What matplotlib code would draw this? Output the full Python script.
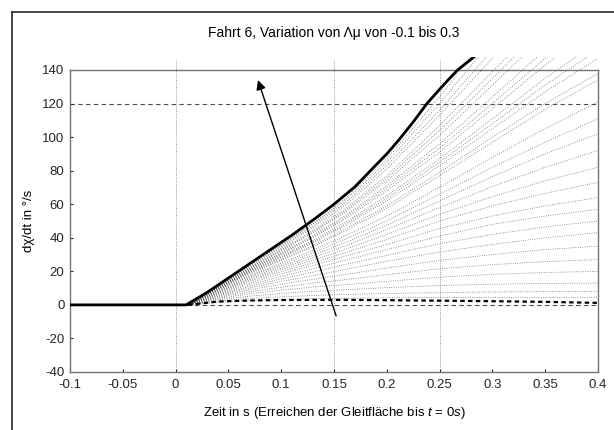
import matplotlib

matplotlib.use("Agg")
import matplotlib.pyplot as plt
from matplotlib.lines import Line2D
from matplotlib.patches import Rectangle

plt.rcParams["font.family"] = ["Liberation Sans", "DejaVu Sans"]
plt.rcParams["axes.unicode_minus"] = False
plt.rcParams["mathtext.fontset"] = "custom"
plt.rcParams["mathtext.rm"] = "Liberation Sans"
plt.rcParams["mathtext.it"] = "Liberation Sans:italic"

# thick reference curve
thick_x = [-0.1, 0.01, 0.03, 0.05, 0.07, 0.09, 0.11, 0.13, 0.15, 0.17, 0.187,
           0.2, 0.211, 0.225, 0.238, 0.25, 0.258, 0.267, 0.276, 0.285]
thick_y = [0, 0, 7.5, 16, 24.5, 33, 41.5, 50.5, 60, 70.5, 81.6,
           90, 98, 109, 120, 128.5, 134, 140, 144.5, 149]

# family of dotted curves, sampled at fan_x
fan_x = [0.012, 0.04, 0.07, 0.1, 0.13, 0.16, 0.2, 0.25, 0.3, 0.35, 0.4]
fan_upper = [
    [0, 11.8, 24, 36, 48.5, 63, 87, 124, 165, 205, 245],
    [0, 11.5, 23.5, 35.5, 48, 62, 85, 120, 158, 195, 230],
    [0, 11.2, 23, 34.7, 47, 60.5, 83, 116, 152, 188, 222],
    [0, 11, 22.5, 34, 46, 59, 81, 113, 147, 181, 214],
    [0, 10.8, 22, 33, 44.5, 57, 77, 107, 139, 171, 202],
    [0, 10.6, 21.7, 32.5, 43.5, 56, 75.5, 104, 135, 166, 196],
    [0, 10.5, 21.5, 32, 43, 55, 74, 101, 131, 161, 190],
    [0, 10.2, 21, 31, 41.5, 53, 71, 96, 124, 152, 178],
    [0, 10.1, 20.7, 30.5, 40.7, 52, 69.5, 93.5, 120, 147, 172],
    [0, 10, 20.5, 30, 40, 51, 68, 91, 117, 143, 167],
    [0, 9.8, 20, 29, 38.5, 49, 65, 87, 111, 135, 157],
    [0, 9.6, 19.7, 28.5, 37.7, 48, 63.5, 85, 108, 131, 152],
    [0, 9.5, 19.5, 28, 37, 47, 62, 83, 105, 127, 147],
    [0, 9.3, 19, 27, 35.5, 45, 59, 79, 100, 120, 138],
    [0, 9.1, 18.5, 26.5, 34.7, 44, 57.5, 77, 97, 116.5, 134],
]
fan_lower = [
    [0, 8.7, 17.5, 25, 32.5, 41, 53, 70, 88, 105, 121],
    [0, 8.4, 17, 24, 31, 39, 50, 66, 82, 97, 111],
    [0, 8, 16.3, 23, 29.5, 37, 47.5, 62, 76.5, 90, 102],
    [0, 7.7, 15.5, 22, 28, 35, 45, 58, 70.5, 82, 92],
    [0, 7.4, 14.8, 21, 26.5, 33, 42, 54, 64.5, 74, 82],
    [0, 7, 14, 19.8, 25, 31, 39, 50, 59, 66.5, 73],
    [0, 6.6, 13, 18.5, 23.5, 29, 36, 45.5, 53, 59, 64],
    [0, 6.2, 12, 17, 21.5, 26.5, 33, 41, 48, 53, 57],
    [0, 5.8, 11, 15.5, 19.5, 24, 29.5, 36.5, 42, 46.5, 50],
    [0, 5.3, 10, 14, 17.5, 21, 26, 31.5, 36, 40, 43],
    [0, 4.8, 9, 12.3, 15.2, 18, 22, 26.5, 30, 33, 35],
    [0, 4.3, 7.8, 10.5, 13, 15, 18, 21.5, 24, 25.8, 27],
    [0, 3.7, 6.6, 8.8, 10.6, 12, 14, 16.5, 18.2, 19.3, 20],
    [0, 3, 5.2, 6.8, 8, 9, 10.3, 11.5, 12.3, 12.8, 13],
    [0, 2.3, 3.8, 4.8, 5.6, 6.2, 6.8, 7.3, 7.7, 7.9, 8],
    [0, 1.6, 2.6, 3.2, 3.6, 3.9, 4.2, 4.4, 4.5, 4.5, 4.5],
]
# heavy dotted curve close to zero
base_y = [0, 2, 2.6, 2.9, 3, 3, 2.8, 2.5, 2.2, 1.8, 1.2]

ref_levels = [0, 120]
mark_times = [0, 0.15, 0.25]
arrow_tail = (0.152, -6.5)
arrow_head = (0.078, 134)

x_ticks = [-0.1, -0.05, 0, 0.05, 0.1, 0.15, 0.2, 0.25, 0.3, 0.35, 0.4]
x_labels = ["-0.1", "-0.05", "0", "0.05", "0.1", "0.15", "0.2", "0.25", "0.3", "0.35", "0.4"]
y_ticks = [-40, -20, 0, 20, 40, 60, 80, 100, 120, 140]

fig = plt.figure(figsize=(6.14, 4.30), dpi=100)
ax = fig.add_axes([70 / 614, 58 / 430, 528 / 614, 302 / 430])
ax.set_xlim(-0.1, 0.4)
ax.set_ylim(-40, 140)

# data may run a little above the axes top, like the original
clip = Rectangle((-0.1, -40), 0.5, 188, transform=ax.transData, facecolor="none")

for lvl in ref_levels:
    ax.axhline(lvl, color="0.3", lw=0.8, ls=(0, (4, 3)), zorder=1)
for t in mark_times:
    ax.plot([t, t], [-40, 146], color="0.45", lw=0.6, ls=":", clip_on=False, zorder=1)

for ys in fan_upper + fan_lower:
    ln, = ax.plot(fan_x, ys, color="0.35", lw=0.55, ls=(0, (1, 2)), zorder=2)
    ln.set_clip_path(clip)

ax.plot(fan_x, base_y, color="black", lw=1.6, ls=(0, (2, 1.5)), zorder=3)
ln, = ax.plot(thick_x, thick_y, color="black", lw=2.0, zorder=4)
ln.set_clip_path(clip)

ax.annotate("", xy=arrow_head, xytext=arrow_tail,
            arrowprops=dict(arrowstyle="-|>", color="black", lw=1.0,
                            mutation_scale=14, shrinkA=0, shrinkB=0), zorder=5)

ax.set_xticks(x_ticks)
ax.set_xticklabels(x_labels)
ax.set_yticks(y_ticks)
ax.tick_params(direction="in", length=2, labelsize=9.5, colors="0.15")
ax.tick_params(axis="x", pad=5)
ax.tick_params(axis="y", pad=4)
for s in ax.spines.values():
    s.set_color("0.45")
    s.set_linewidth(1.0)

ax.set_title("Fahrt 6, Variation von Λμ von -0.1 bis 0.3", fontsize=10, pad=24)
ax.set_ylabel("dχ/dt in °/s", fontsize=9.5, labelpad=5)
ax.set_xlabel("Zeit in s (Erreichen der Gleitfläche bis $\\it{t}$ = $\\it{0s)}$", fontsize=9.5, labelpad=10)

# outer frame (left and top edges visible)
fig.add_artist(Line2D([12 / 614, 12 / 614], [0, 1 - 12 / 430], color="0.15", lw=1.2))
fig.add_artist(Line2D([12 / 614, 1], [1 - 12 / 430, 1 - 12 / 430], color="0.15", lw=1.2))

fig.savefig("out.png", dpi=100)
